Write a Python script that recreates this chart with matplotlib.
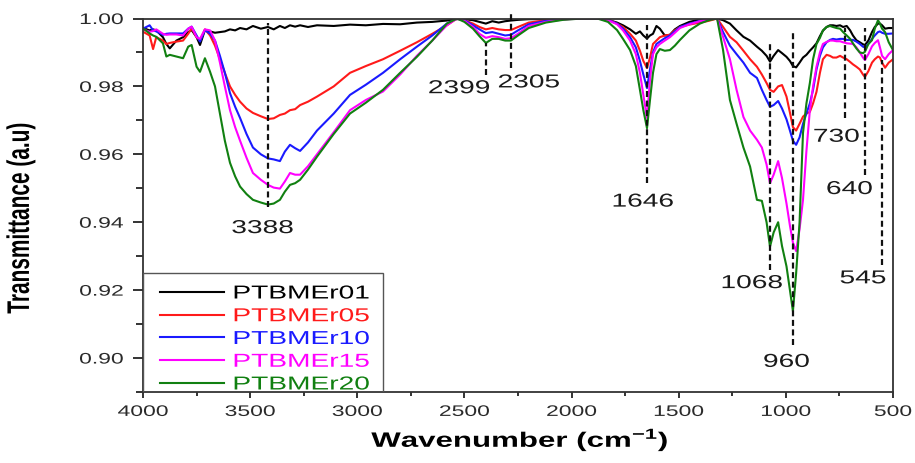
import matplotlib
matplotlib.use('Agg')
import matplotlib.pyplot as plt
import matplotlib.patheffects as pe
from matplotlib.transforms import Affine2D
from matplotlib.patches import Rectangle

plt.rcParams['font.family'] = ['Liberation Sans', 'DejaVu Sans']
plt.rcParams['mathtext.fontset'] = 'custom'
plt.rcParams['mathtext.rm'] = 'Liberation Sans'
plt.rcParams['mathtext.bf'] = 'Liberation Sans:bold'

# wavenumber grid (cm-1) and transmittance of each sample
wn = [4000, 3969, 3953, 3938, 3907, 3891, 3875, 3844, 3813, 3789,
      3773, 3750, 3734, 3711, 3687, 3664, 3641, 3618, 3594, 3570,
      3547, 3517, 3487, 3450, 3417, 3390, 3361, 3338, 3314, 3290,
      3267, 3230, 3188, 3110, 3034, 2960, 2880, 2800, 2722, 2650,
      2582, 2535, 2500, 2460, 2430, 2400, 2370, 2340, 2310, 2283,
      2250, 2200, 2120, 2040, 1950, 1880, 1830, 1788, 1760, 1727,
      1700, 1681, 1665, 1648, 1634, 1620, 1604, 1588, 1565, 1541,
      1518, 1494, 1450, 1401, 1360, 1321, 1293, 1261, 1230, 1198,
      1167, 1135, 1112, 1090, 1074, 1057, 1036, 1018, 997, 981,
      967, 952, 936, 920, 904, 888, 873, 857, 841, 827,
      810, 794, 780, 764, 747, 733, 716, 700, 687, 671,
      655, 640, 631, 615, 598, 585, 570, 561, 551, 537,
      520, 500]

ptbmer01 = [0.9972, 0.9965, 0.9968, 0.9965, 0.9945, 0.9925, 0.9912, 0.9935, 0.9945, 0.9960,
            0.9966, 0.9945, 0.9922, 0.9966, 0.9962, 0.9958, 0.9960, 0.9962, 0.9968, 0.9965,
            0.9972, 0.9968, 0.9978, 0.9970, 0.9975, 0.9968, 0.9978, 0.9972, 0.9980, 0.9976,
            0.9980, 0.9975, 0.9980, 0.9978, 0.9982, 0.9980, 0.9984, 0.9983, 0.9988, 0.9990,
            0.9994, 0.9998, 0.9998, 0.9995, 0.9990, 0.9985, 0.9992, 0.9988, 0.9992, 0.9994,
            0.9996, 0.9998, 0.9998, 0.9999, 1.0, 1.0, 0.9996, 0.9988, 0.9980, 0.9968,
            0.9955, 0.9962, 0.9950, 0.9941, 0.9950, 0.9955, 0.9978, 0.9970, 0.9950, 0.9952,
            0.9968, 0.9978, 0.9990, 0.9997, 1.0, 1.0, 0.9995, 0.9985, 0.9965, 0.9946,
            0.9935, 0.9917, 0.9905, 0.9890, 0.9873, 0.9890, 0.9907, 0.9898, 0.9887, 0.9875,
            0.9860, 0.9856, 0.9870, 0.9885, 0.9893, 0.9905, 0.9915, 0.9927, 0.9948, 0.9964,
            0.9975, 0.9980, 0.9980, 0.9978, 0.9980, 0.9975, 0.9978, 0.9965, 0.9950, 0.9936,
            0.9930, 0.9924, 0.9922, 0.9935, 0.9960, 0.9975, 0.9985, 0.9985, 0.9980, 0.9970,
            0.9972, 0.9972]

ptbmer05 = [0.9961, 0.9950, 0.9910, 0.9945, 0.9935, 0.9925, 0.9928, 0.9932, 0.9935, 0.9955,
            0.9971, 0.9945, 0.9935, 0.9968, 0.9950, 0.9920, 0.9880, 0.9840, 0.9800, 0.9775,
            0.9755, 0.9735, 0.9722, 0.9712, 0.9704, 0.9706, 0.9716, 0.9720, 0.9730, 0.9733,
            0.9745, 0.9755, 0.9770, 0.9800, 0.9840, 0.9860, 0.9880, 0.9905, 0.9930, 0.9955,
            0.9980, 1.0, 0.9995, 0.9985, 0.9975, 0.9968, 0.9972, 0.9968, 0.9966, 0.9966,
            0.9975, 0.9988, 0.9995, 0.9998, 1.0, 1.0, 0.9998, 0.9985, 0.9975, 0.9955,
            0.9935, 0.9905, 0.9875, 0.9854, 0.9885, 0.9925, 0.9935, 0.9945, 0.9950, 0.9952,
            0.9965, 0.9975, 0.9982, 0.9988, 0.9993, 1.0, 0.9975, 0.9946, 0.9930, 0.9905,
            0.9880, 0.9858, 0.9835, 0.9810, 0.9790, 0.9784, 0.9800, 0.9804, 0.9770, 0.9723,
            0.9680, 0.9670, 0.9690, 0.9711, 0.9720, 0.9725, 0.9750, 0.9784, 0.9840, 0.9880,
            0.9893, 0.9890, 0.9885, 0.9885, 0.9890, 0.9885, 0.9880, 0.9872, 0.9865, 0.9858,
            0.9850, 0.9835, 0.9828, 0.9845, 0.9870, 0.9880, 0.9888, 0.9885, 0.9870, 0.9855,
            0.9870, 0.9880]

ptbmer10 = [0.9970, 0.9980, 0.9965, 0.9962, 0.9952, 0.9955, 0.9956, 0.9956, 0.9956, 0.9970,
            0.9976, 0.9950, 0.9932, 0.9966, 0.9955, 0.9935, 0.9890, 0.9840, 0.9780, 0.9740,
            0.9707, 0.9660, 0.9620, 0.9600, 0.9588, 0.9585, 0.9580, 0.9608, 0.9628, 0.9618,
            0.9610, 0.9635, 0.9670, 0.9720, 0.9775, 0.9805, 0.9840, 0.9880, 0.9917, 0.9950,
            0.9985, 1.0, 0.9995, 0.9980, 0.9968, 0.9957, 0.9960, 0.9955, 0.9950, 0.9952,
            0.9965, 0.9983, 0.9993, 0.9998, 1.0, 1.0, 0.9996, 0.9985, 0.9970, 0.9945,
            0.9915, 0.9875, 0.9835, 0.9795, 0.9850, 0.9900, 0.9925, 0.9932, 0.9942, 0.9950,
            0.9962, 0.9975, 0.9985, 0.9993, 0.9998, 1.0, 0.9960, 0.9920, 0.9895, 0.9870,
            0.9840, 0.9825, 0.9790, 0.9760, 0.9740, 0.9745, 0.9757, 0.9735, 0.9703, 0.9670,
            0.9640, 0.9628, 0.9650, 0.9690, 0.9720, 0.9750, 0.9790, 0.9850, 0.9890, 0.9915,
            0.9930, 0.9937, 0.9940, 0.9938, 0.9940, 0.9940, 0.9937, 0.9937, 0.9937, 0.9932,
            0.9925, 0.9917, 0.9915, 0.9925, 0.9940, 0.9950, 0.9960, 0.9962, 0.9958, 0.9955,
            0.9955, 0.9956]

ptbmer15 = [0.9968, 0.9961, 0.9963, 0.9968, 0.9955, 0.9952, 0.9953, 0.9953, 0.9950, 0.9970,
            0.9976, 0.9945, 0.9940, 0.9968, 0.9965, 0.9935, 0.9870, 0.9800, 0.9730, 0.9680,
            0.9640, 0.9590, 0.9545, 0.9525, 0.9510, 0.9502, 0.9499, 0.9520, 0.9545, 0.9540,
            0.9540, 0.9565, 0.9600, 0.9665, 0.9730, 0.9760, 0.9785, 0.9835, 0.9890, 0.9935,
            0.9980, 1.0, 0.9993, 0.9975, 0.9955, 0.9943, 0.9948, 0.9945, 0.9940, 0.9942,
            0.9955, 0.9978, 0.9990, 0.9997, 1.0, 1.0, 0.9995, 0.9983, 0.9965, 0.9935,
            0.9895, 0.9840, 0.9775, 0.9707, 0.9820, 0.9895, 0.9915, 0.9925, 0.9935, 0.9945,
            0.9958, 0.9972, 0.9983, 0.9992, 0.9998, 1.0, 0.9946, 0.9880, 0.9790, 0.9710,
            0.9670, 0.9643, 0.9620, 0.9570, 0.9515, 0.9540, 0.9580, 0.9530, 0.9455, 0.9390,
            0.9340, 0.9315, 0.9380, 0.9466, 0.9610, 0.9730, 0.9800, 0.9858, 0.9900, 0.9925,
            0.9931, 0.9935, 0.9935, 0.9933, 0.9933, 0.9930, 0.9927, 0.9926, 0.9925, 0.9915,
            0.9900, 0.9885, 0.9878, 0.9895, 0.9918, 0.9928, 0.9936, 0.9915, 0.9890, 0.9880,
            0.9895, 0.9907]

ptbmer20 = [0.9971, 0.9956, 0.9950, 0.9946, 0.9927, 0.9888, 0.9893, 0.9888, 0.9883, 0.9917,
            0.9922, 0.9858, 0.9843, 0.9883, 0.9843, 0.9800, 0.9720, 0.9640, 0.9575, 0.9535,
            0.9505, 0.9483, 0.9466, 0.9458, 0.9452, 0.9455, 0.9466, 0.9490, 0.9510, 0.9515,
            0.9525, 0.9555, 0.9593, 0.9660, 0.9720, 0.9752, 0.9790, 0.9840, 0.9887, 0.9935,
            0.9985, 1.0, 0.9990, 0.9970, 0.9948, 0.9928, 0.9940, 0.9940, 0.9935, 0.9935,
            0.9950, 0.9972, 0.9988, 0.9996, 1.0, 1.0, 0.9990, 0.9966, 0.9940, 0.9907,
            0.9860, 0.9790, 0.9730, 0.9677, 0.9760, 0.9840, 0.9895, 0.9910, 0.9905, 0.9907,
            0.9920, 0.9937, 0.9965, 0.9985, 0.9995, 1.0, 0.9907, 0.9760, 0.9690, 0.9620,
            0.9564, 0.9466, 0.9463, 0.9400, 0.9328, 0.9370, 0.9400, 0.9330, 0.9270, 0.9200,
            0.9138, 0.9250, 0.9400, 0.9663, 0.9750, 0.9810, 0.9880, 0.9925, 0.9943, 0.9965,
            0.9975, 0.9978, 0.9975, 0.9972, 0.9970, 0.9960, 0.9950, 0.9940, 0.9927, 0.9912,
            0.9900, 0.9898, 0.9902, 0.9925, 0.9936, 0.9970, 0.9995, 0.9985, 0.9970, 0.9960,
            0.9930, 0.9907]

names = ['PTBMEr01', 'PTBMEr05', 'PTBMEr10', 'PTBMEr15', 'PTBMEr20']
colors = ['#000000', '#ff1a1a', '#1a1aff', '#ff00ff', '#118011']

# marked bands: label, where the dashed guide sits, and its vertical extent
peak_labels = ['3388', '2399', '2305', '1646', '1068', '960', '730', '640', '545']
guide_x = [3417, 2400, 2283, 1648, 1074, 967, 724, 631, 551]
guide_top = [0.9987, 0.9928, 1.0016, 0.9981, 0.9931, 0.9960, 0.9972, 0.9972, 0.9878]
guide_bottom = [0.9445, 0.9834, 0.9854, 0.9516, 0.9259, 0.9038, 0.9707, 0.9539, 0.9274]
label_x = [3442, 2525, 2199, 1667, 1158, 997, 764, 703, 640]
label_y = [0.9368, 0.9780, 0.9797, 0.9446, 0.9206, 0.8974, 0.9637, 0.9483, 0.9220]


class Stretch(pe.AbstractPathEffect):
    """Widen text horizontally, like the stretched original image."""
    def __init__(self, sx=1.5, anchor='center'):
        super().__init__()
        self.sx = sx
        self.anchor = anchor

    def draw_path(self, renderer, gc, tpath, affine, rgbFace=None):
        ext = tpath.get_extents(affine)
        if self.anchor == 'left':
            x0 = ext.x0
        elif self.anchor == 'right':
            x0 = ext.x1
        else:
            x0 = (ext.x0 + ext.x1) / 2
        affine = affine + Affine2D().translate(-x0, 0).scale(self.sx, 1).translate(x0, 0)
        renderer.draw_path(gc, tpath, affine, rgbFace)


fig = plt.figure(figsize=(9.15, 4.63), dpi=100)
ax = fig.add_axes([143 / 915, 1 - 392 / 463, 750 / 915, 373.5 / 463])

series = [ptbmer01, ptbmer05, ptbmer10, ptbmer15, ptbmer20]
for vals, name, c in zip(series, names, colors):
    ax.plot(wn, vals, color=c, lw=1.5, label=name)

ax.vlines(guide_x, guide_bottom, guide_top, colors='#111111', lw=1.6,
          linestyles=(0, (2.7, 1.6)), zorder=5, clip_on=False)
for txt, x, y in zip(peak_labels, label_x, label_y):
    t = ax.text(x, y, txt, ha='center', va='baseline', fontsize=13.5, color='#1a1a1a')
    t.set_path_effects([Stretch()])

ax.set_xlim(4000, 500)
ax.set_ylim(0.89, 1.00)
ax.set_xticks(range(4000, 499, -500))
ax.set_xticks(range(3750, 500, -500), minor=True)
ax.set_yticks([0.90, 0.92, 0.94, 0.96, 0.98, 1.00])
ax.set_yticks([0.89, 0.91, 0.93, 0.95, 0.97, 0.99], minor=True)
ax.set_yticklabels(['0.90', '0.92', '0.94', '0.96', '0.98', '1.00'])

ax.tick_params(axis='x', which='major', direction='out', length=4.3, width=1.4,
               pad=5, labelsize=11, labelcolor='#2a2a2a', color='#333333')
ax.tick_params(axis='x', which='minor', direction='out', length=2.6, width=1.4, color='#333333')
ax.tick_params(axis='y', which='major', direction='out', length=7, width=1.4,
               pad=7.2, labelsize=11, labelcolor='#2a2a2a', color='#333333')
ax.tick_params(axis='y', which='minor', direction='out', length=5, width=1.4, color='#333333')
for lbl in ax.get_xticklabels():
    lbl.set_path_effects([Stretch()])
for lbl in ax.get_yticklabels():
    lbl.set_path_effects([Stretch(anchor='right')])

for sp in ax.spines.values():
    sp.set_color('#333333')
    sp.set_linewidth(1.3)

ax.set_xlabel(r'Wavenumber (cm$^{\mathbf{-1}}$)', fontsize=15, fontweight='bold')
ax.xaxis.set_label_coords(0.503, -0.147)
ax.xaxis.label.set_va('baseline')
ax.xaxis.label.set_path_effects([Stretch()])
ax.set_ylabel('Transmittance (a.u)', fontsize=15, fontweight='bold')
ax.yaxis.set_label_coords(-0.163, 0.466)
ax.yaxis.label.set_va('center')
ax.yaxis.label.set_path_effects([Stretch()])

leg = ax.legend(loc='lower left', bbox_to_anchor=(17 / 750, -0.004), frameon=False,
                fontsize=13.5, handlelength=3.4, handletextpad=0.5, labelspacing=0.3,
                borderpad=0, borderaxespad=0)
for txt, c in zip(leg.get_texts(), colors):
    txt.set_color(c)
    txt.set_path_effects([Stretch(anchor='left')])
ax.add_patch(Rectangle((0, 0), 240 / 750, 119 / 373.5, transform=ax.transAxes,
                       fill=False, ec='#555555', lw=1.0, zorder=6))

fig.savefig('out.png', dpi=100)
